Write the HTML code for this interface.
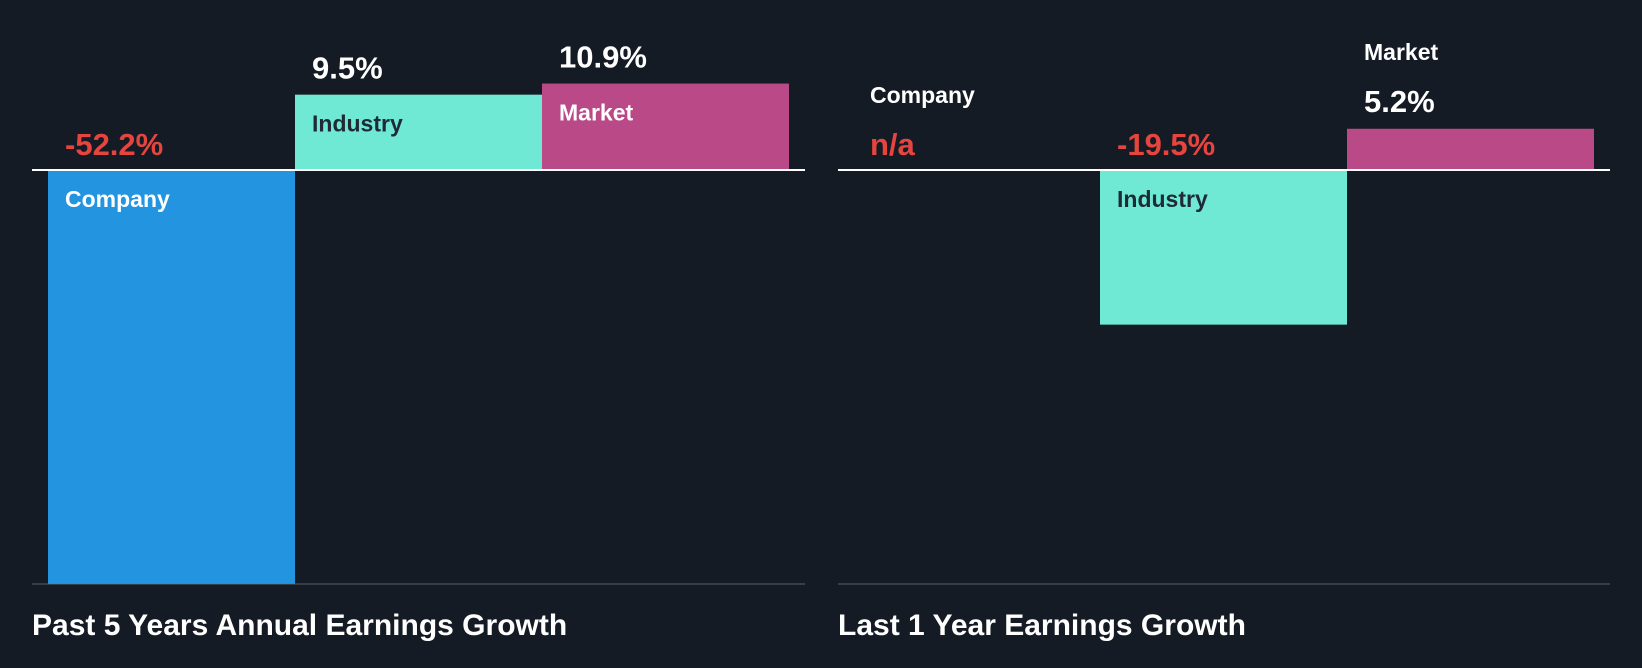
<!DOCTYPE html>
<html><head><meta charset="utf-8"><style>
html,body{margin:0;padding:0;background:#151b24;}
svg{display:block;font-family:"Liberation Sans",sans-serif;font-weight:bold;}
</style></head><body>
<svg id="c" width="1642" height="668" viewBox="0 0 1642 668">
<rect width="1642" height="668" fill="#151b24"/>
</svg>
<script>
const categories = ["Company","Industry","Market"];
const past5Values = [-52.2, 9.5, 10.9];
const past5Labels = ["-52.2%","9.5%","10.9%"];
const last1Values = [null, -19.5, 5.2];
const last1Labels = ["n/a","-19.5%","5.2%"];
const titles = ["Past 5 Years Annual Earnings Growth","Last 1 Year Earnings Growth"];

const NS="http://www.w3.org/2000/svg";
const svg=document.getElementById('c');
const colors=["#2394e0","#6fe8d4","#b94a87"];
const labColors=["#ffffff","#1e2a36","#ffffff"];
const zeroY=170, pxPer=7.93;
function y(v){return zeroY - v*pxPer;}
function mk(tag,attrs){const e=document.createElementNS(NS,tag);for(const k in attrs)e.setAttribute(k,attrs[k]);svg.appendChild(e);return e;}
function txt(x,yy,s,size,fill,name){const t=mk('text',{x:x,y:yy,'font-size':size,fill:fill});t.textContent=s;


return t;}

const VS=31, LS=23;
const panels=[{x0:32,x1:805,bx:48,vals:past5Values,labs:past5Labels,title:titles[0],id:'past-5y'},
              {x0:838,x1:1610,bx:853,vals:last1Values,labs:last1Labels,title:titles[1],id:'last-1y'}];
const bw=247;
panels.forEach(p=>{
  const ax=mk('line',{x1:p.x0,x2:p.x1,y1:584,y2:584,stroke:'#3a3f47','stroke-width':2});
  
  
  p.vals.forEach((v,i)=>{
    const x=p.bx+i*bw;
    const neg = v!==null && v<0;
    const nm=categories[i].toLowerCase();
    if(v!==null){
      const top=Math.min(y(v),zeroY), h=Math.abs(y(v)-zeroY);
      const r=mk('rect',{x:x,y:top,width:bw,height:h,fill:colors[i]});
      
      
    }
    const vFill = (v===null||neg) ? '#e5443f' : '#ffffff';
    if(v===null){
      txt(x+17,103,categories[i],LS,'#ffffff',p.id+'-label-'+nm);
      txt(x+17,155,p.labs[i],VS,vFill,p.id+'-value-'+nm);
    } else if(neg){
      txt(x+17,155,p.labs[i],VS,vFill,p.id+'-value-'+nm);
      txt(x+17,207,categories[i],LS,labColors[i],p.id+'-label-'+nm);
    } else {
      const top=y(v);
      const h=zeroY-top;
      if(h>60){
        txt(x+17,top-16,p.labs[i],VS,vFill,p.id+'-value-'+nm);
        txt(x+17,top+37,categories[i],LS,labColors[i],p.id+'-label-'+nm);
      } else {
        txt(x+17,top-17,p.labs[i],VS,vFill,p.id+'-value-'+nm);
        txt(x+17,top-69,categories[i],LS,'#ffffff',p.id+'-label-'+nm);
      }
    }
  });
  const zl=mk('line',{x1:p.x0,x2:p.x1,y1:zeroY,y2:zeroY,stroke:'#ffffff','stroke-width':2});
  
  
  txt(p.x0,635,p.title,30,'#ffffff',p.id+'-title');
});
</script>
</body></html>
